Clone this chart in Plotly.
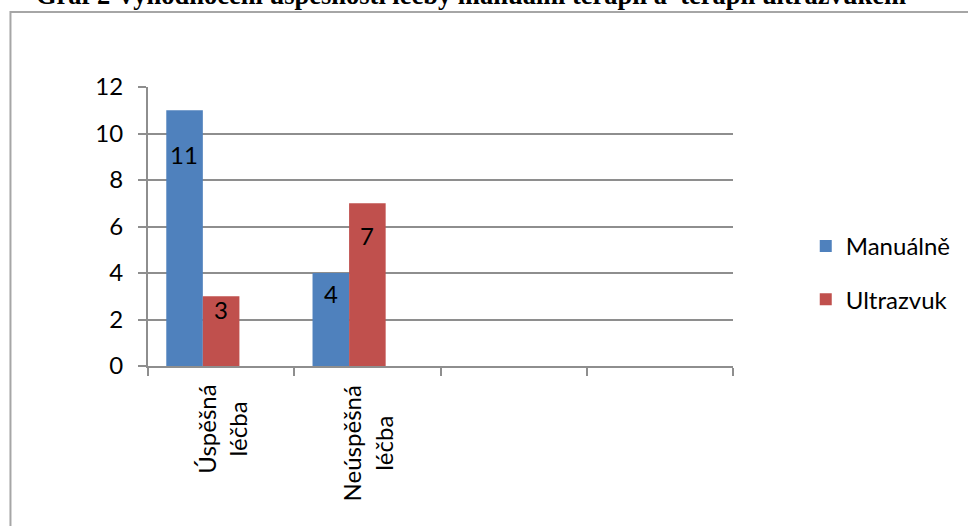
import plotly.graph_objects as go

# Data
categories = ["Úspěšná léčba", "Neúspěšná léčba", " ", "  "]
manualne = [11, 4, None, None]
ultrazvuk = [3, 7, None, None]
series_names = ["Manuálně", "Ultrazvuk"]
title_text = "Graf 2 Vyhodnocení úspěšnosti léčby manuální terapií a  terapií ultrazvukem"
y_ticks = [0, 2, 4, 6, 8, 10, 12]

# Styling
W, H = 968, 526
L, R, T, B = 148, 233, 87, 160
plot_w = W - L - R
plot_h = H - T - B
blue = "#4F81BD"
red = "#C0504D"
grid = "#8e8e8e"
font_family = "Lato, 'Open Sans', sans-serif"
fs = 24
bargap = 0.25
n_slots = 3  # two visible series plus one empty slot

cat_px = plot_w / len(categories)
bar_px = cat_px * (1 - bargap) / n_slots
# pixel offsets of the value labels relative to each bar's top
label_shift_man = [-44, -20]
label_shift_ult = [-13, -32]


def px_x(p):
    return (p - L) / plot_w


def px_y(p):
    return (H - B - p) / plot_h


fig = go.Figure()
fig.add_trace(go.Bar(x=categories, y=manualne, name=series_names[0],
                     marker=dict(color=blue, line=dict(width=0)),
                     legendgroup="a"))
fig.add_trace(go.Bar(x=categories, y=ultrazvuk, name=series_names[1],
                     marker=dict(color=red, line=dict(width=0)),
                     legendgroup="b"))
fig.add_trace(go.Bar(x=categories, y=[None] * len(categories), name="",
                     showlegend=False, marker=dict(color="rgba(0,0,0,0)")))

annotations = []
# value labels
for i, v in enumerate(manualne):
    if v is None:
        continue
    annotations.append(dict(x=categories[i], y=v, xref="x", yref="y",
                            text=str(v), showarrow=False, xshift=-bar_px,
                            yshift=label_shift_man[i], yanchor="middle",
                            font=dict(family=font_family, size=fs, color="black")))
for i, v in enumerate(ultrazvuk):
    if v is None:
        continue
    annotations.append(dict(x=categories[i], y=v, xref="x", yref="y",
                            text=str(v), showarrow=False, xshift=0,
                            yshift=label_shift_ult[i], yanchor="middle",
                            font=dict(family=font_family, size=fs, color="black")))
# category labels, rotated and centred line by line
for c in categories:
    if not c.strip():
        continue
    annotations.append(dict(x=c, y=px_y(383), xref="x", yref="paper",
                            text=c.replace(" ", "<br>"), textangle=-90,
                            showarrow=False, yanchor="top", xanchor="center",
                            align="center",
                            font=dict(family=font_family, size=fs, color="black")))
# title (sits above the chart frame)
annotations.append(dict(x=px_x(472), y=px_y(11.7), xref="paper", yref="paper",
                        text="<b>" + title_text + "</b>", showarrow=False,
                        xanchor="center", yanchor="bottom",
                        font=dict(family="'Liberation Serif', 'Times New Roman', serif",
                                  size=26.5, color="black")))

# outer chart frame
shapes = [dict(type="rect", xref="paper", yref="paper",
               x0=px_x(10), x1=px_x(990), y0=px_y(560), y1=px_y(12),
               line=dict(color="#a6a6a6", width=2), fillcolor="rgba(0,0,0,0)",
               layer="below")]

fig.update_layout(
    width=W, height=H,
    margin=dict(l=L, r=R, t=T, b=B, pad=0),
    paper_bgcolor="white", plot_bgcolor="white",
    barmode="group", bargap=bargap, bargroupgap=0,
    font=dict(family=font_family, size=fs, color="black"),
    showlegend=True,
    legend=dict(x=px_x(808), xanchor="left", y=px_y(273), yanchor="middle",
                traceorder="grouped", tracegroupgap=19,
                font=dict(family=font_family, size=fs, color="black"),
                bgcolor="rgba(0,0,0,0)"),
    annotations=annotations,
    shapes=shapes,
)
fig.update_xaxes(type="category", categoryorder="array", categoryarray=categories,
                 showticklabels=False, tickson="boundaries", ticks="outside",
                 ticklen=8, tickcolor=grid, tickwidth=2,
                 showline=True, linecolor=grid, linewidth=2,
                 showgrid=False, zeroline=False, fixedrange=True)
fig.update_yaxes(range=[0, 12], tickvals=y_ticks, ticks="outside", ticklen=8,
                 tickcolor=grid, tickwidth=2, showline=True, linecolor=grid,
                 linewidth=2, showgrid=True, gridcolor=grid, gridwidth=2,
                 zeroline=False, ticklabelstandoff=10,
                 tickfont=dict(family=font_family, size=fs, color="black"))

fig.write_html("out.html")
